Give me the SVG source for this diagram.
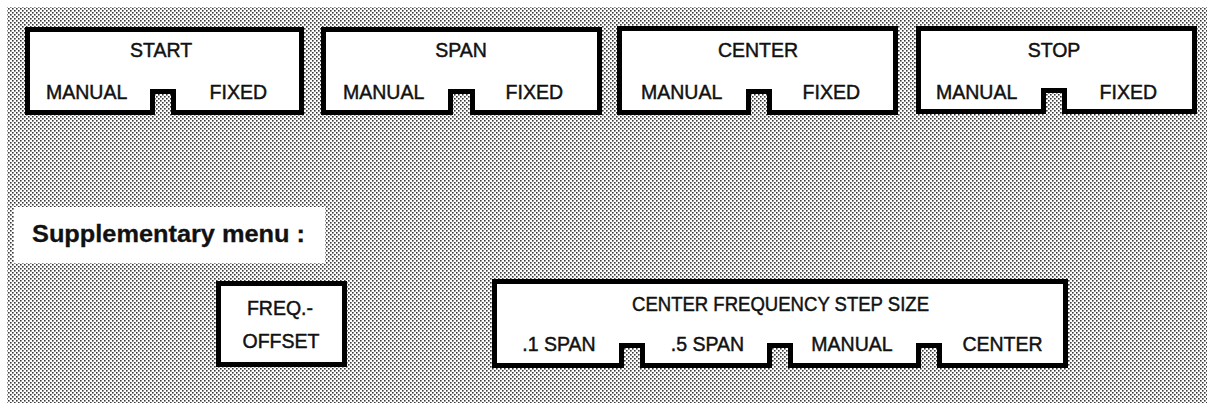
<svg xmlns="http://www.w3.org/2000/svg" width="1207" height="403" viewBox="0 0 1207 403">
<defs>
<pattern id="dots" x="0" y="0" width="4" height="4" patternUnits="userSpaceOnUse">
<rect width="4" height="4" fill="#ffffff"/>
<rect x="0" y="0" width="1.6" height="1.6" fill="#3a3a3a"/>
<rect x="2" y="2" width="1.6" height="1.6" fill="#3a3a3a"/>
</pattern>
</defs>
<style>
.box{fill:#ffffff;stroke:#000000;stroke-width:5;stroke-linejoin:miter}
text{font-family:"Liberation Sans",Arial,sans-serif;font-size:19.5px;fill:#111111;stroke:#111111;stroke-width:0.45}
.c{text-anchor:middle}
.e{text-anchor:end}
.h{font-weight:bold;font-size:24px;stroke-width:0.3}
</style>
<rect width="1207" height="403" fill="#ffffff"/>
<rect x="7" y="7" width="1200" height="396" fill="url(#dots)"/>

<g id="node-start">
<path class="box" d="M27.5,29.5 H301.5 V112.5 H173.5 V91.5 H152.5 V112.5 H27.5 Z"/>
<text class="c" x="161" y="57">START</text>
<text x="46" y="99">MANUAL</text>
<text class="e" x="267" y="99">FIXED</text>
</g>
<g id="node-span">
<path class="box" d="M323.5,29.5 H599.5 V112.5 H472.5 V91.5 H450.5 V112.5 H323.5 Z"/>
<text class="c" x="461" y="57">SPAN</text>
<text x="343" y="99">MANUAL</text>
<text class="e" x="563" y="99">FIXED</text>
</g>
<g id="node-center">
<path class="box" d="M619.5,28.5 H895.5 V112.5 H769.5 V91.5 H748.5 V112.5 H619.5 Z"/>
<text class="c" x="758" y="57">CENTER</text>
<text x="641" y="99">MANUAL</text>
<text class="e" x="860" y="99">FIXED</text>
</g>
<g id="node-stop">
<path class="box" d="M918.5,28.5 H1194.5 V111.5 H1064.5 V90.5 H1043.5 V111.5 H918.5 Z"/>
<text class="c" x="1054" y="57">STOP</text>
<text x="936" y="99">MANUAL</text>
<text class="e" x="1157" y="99">FIXED</text>
</g>

<g id="label-supplementary">
<rect x="14" y="207" width="311" height="56" fill="#ffffff"/>
<text class="h" x="32" y="242" textLength="273" lengthAdjust="spacingAndGlyphs">Supplementary menu :</text>
</g>

<g id="node-freq-offset">
<rect class="box" x="218.5" y="283.5" width="126" height="81"/>
<text class="c" x="280" y="315">FREQ.-</text>
<text class="c" x="281" y="348">OFFSET</text>
</g>

<g id="node-step-size">
<path class="box" d="M494.5,281.5 H1065.5 V365.5 H939.5 V345.5 H918.5 V365.5 H790.5 V345.5 H769.5 V365.5 H642.5 V345.5 H621.5 V365.5 H494.5 Z"/>
<text class="c" x="780.5" y="311" textLength="297" lengthAdjust="spacingAndGlyphs">CENTER FREQUENCY STEP SIZE</text>
<text class="c" x="559" y="351">.1 SPAN</text>
<text class="c" x="707.5" y="351">.5 SPAN</text>
<text class="c" x="852" y="351">MANUAL</text>
<text class="c" x="1002.5" y="351">CENTER</text>
</g>

<g id="connectors"></g>
</svg>
